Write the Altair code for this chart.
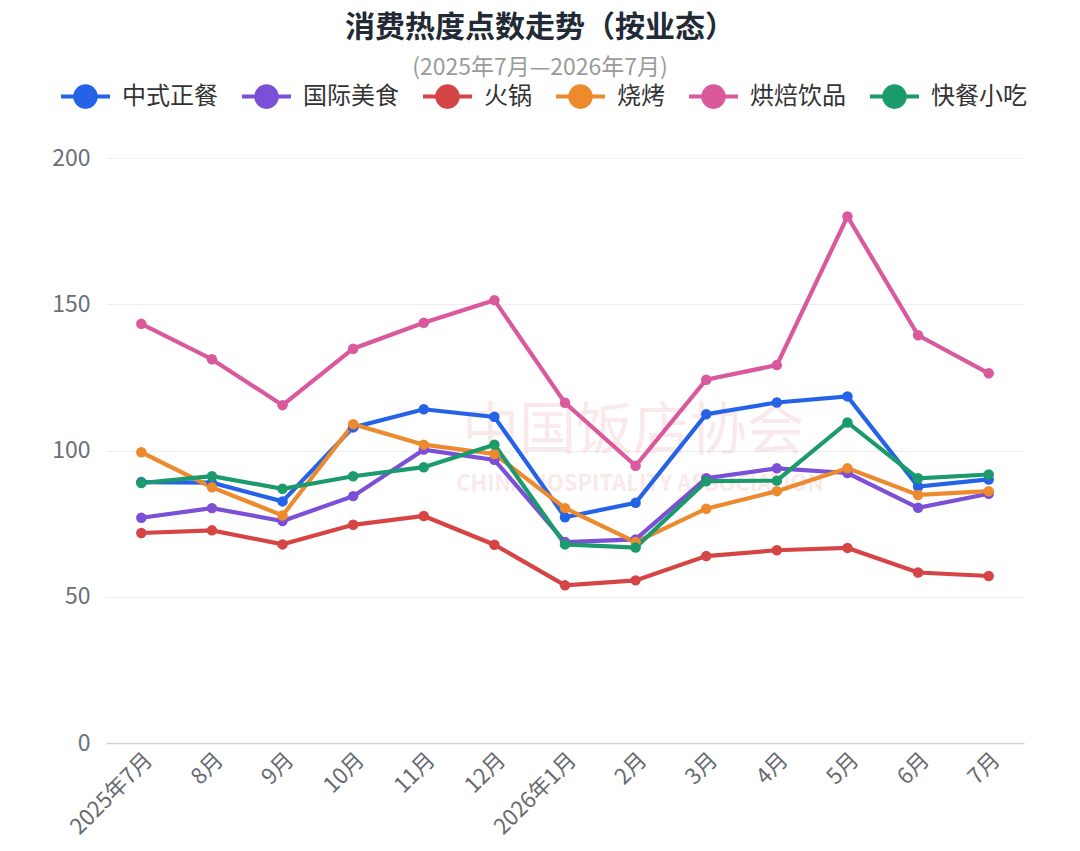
import altair as alt
import pandas as pd

months = ["2025年7月", "8月", "9月", "10月", "11月", "12月", "2026年1月",
          "2月", "3月", "4月", "5月", "6月", "7月"]
series_names = ["中式正餐", "国际美食", "火锅", "烧烤", "烘焙饮品", "快餐小吃"]
colors = ["#2463e8", "#7b4fd6", "#d64545", "#ec8a2d", "#d9599c", "#1b9a6b"]

zhongshi = [89.2, 89.0, 82.6, 107.9, 114.1, 111.5, 77.2, 82.1, 112.4, 116.4, 118.5, 87.7, 90.1]
guoji = [77.0, 80.3, 75.9, 84.4, 100.3, 96.8, 68.7, 69.6, 90.5, 93.9, 92.3, 80.4, 85.2]
huoguo = [71.8, 72.7, 67.9, 74.6, 77.6, 67.8, 53.9, 55.6, 63.9, 65.9, 66.7, 58.3, 57.1]
shaokao = [99.4, 87.4, 77.8, 109.0, 102.0, 98.8, 80.3, 68.7, 80.1, 86.1, 93.9, 84.8, 86.1]
hongbei = [143.3, 131.2, 115.5, 134.8, 143.7, 151.4, 116.3, 94.8, 124.2, 129.2, 180.0, 139.4, 126.4]
kuaican = [88.9, 91.2, 86.9, 91.2, 94.3, 102.0, 67.9, 66.8, 89.5, 89.7, 109.6, 90.5, 91.8]

values = [zhongshi, guoji, huoguo, shaokao, hongbei, kuaican]
rows = []
for name, vals in zip(series_names, values):
    for m, v in zip(months, vals):
        rows.append({"月份": m, "业态": name, "点数": v})
df = pd.DataFrame(rows)

FONT = "Noto Sans CJK SC"
legend_path = "M-1,0L1,0M-0.42,0A0.42,0.42 0 1,1 0.42,0A0.42,0.42 0 1,1 -0.42,0Z"

color = alt.Color(
    "业态:N",
    sort=series_names,
    scale=alt.Scale(domain=series_names, range=colors),
    legend=alt.Legend(
        title=None, orient="none", direction="horizontal",
        legendX=-47, legendY=-88,
        symbolType=legend_path, symbolSize=2400, symbolStrokeWidth=4,
        symbolOpacity=1,
        labelFont=FONT, labelFontSize=24, labelColor="#333333",
        labelOffset=10, columnPadding=16, padding=0,
    ),
)

x = alt.X("月份:O", sort=months, title=None,
          axis=alt.Axis(labelAngle=-45, labelFont=FONT, labelFontSize=22,
                        labelColor="#666a70", ticks=False, labelPadding=6,
                        domainColor="#cdd3dc", domainWidth=1.5, grid=False))
y = alt.Y("点数:Q", title=None,
          scale=alt.Scale(domain=[0, 200]),
          axis=alt.Axis(values=[0, 50, 100, 150, 200], labelFont=FONT,
                        labelFontSize=23, labelColor="#6b7078", labelPadding=16,
                        ticks=False, domain=False, gridColor="#eceef1",
                        gridWidth=1.2))

base = alt.Chart(df)
lines = base.mark_line(strokeWidth=4.2).encode(x=x, y=y, color=color)
points = base.mark_point(filled=True, size=110, opacity=1).encode(x=x, y=y, color=color)

wm1 = alt.Chart(pd.DataFrame({"t": ["中国饭店协会"]})).mark_text(
    font=FONT, fontSize=57, color="#f4c9ce", opacity=0.4, align="center"
).encode(text="t:N", x=alt.value(527), y=alt.value(274))
wm2 = alt.Chart(pd.DataFrame({"t": ["CHINA HOSPITALITY ASSOCIATION"]})).mark_text(
    font=FONT, fontSize=22, fontWeight="bold", color="#f4c9ce", opacity=0.4, align="center"
).encode(text="t:N", x=alt.value(534), y=alt.value(326))

chart = alt.layer(wm1, wm2, lines, points).properties(
    width=918, height=585,
    autosize=alt.AutoSizeParams(type="none"),
    padding={"left": 98, "top": 150, "right": 48, "bottom": 100},
    title=alt.TitleParams(
        text="消费热度点数走势（按业态）",
        subtitle="(2025年7月—2026年7月)",
        anchor="middle", frame="group", dx=-25, offset=-10,
        font=FONT, fontSize=30, fontWeight="bold", color="#222a36",
        subtitleFont=FONT, subtitleFontSize=23, subtitleColor="#9b9b9b",
        subtitlePadding=14,
    ),
).configure(background="white").configure_view(stroke=None)

chart.save("out.html", embed_options={"renderer": "svg", "actions": False})
